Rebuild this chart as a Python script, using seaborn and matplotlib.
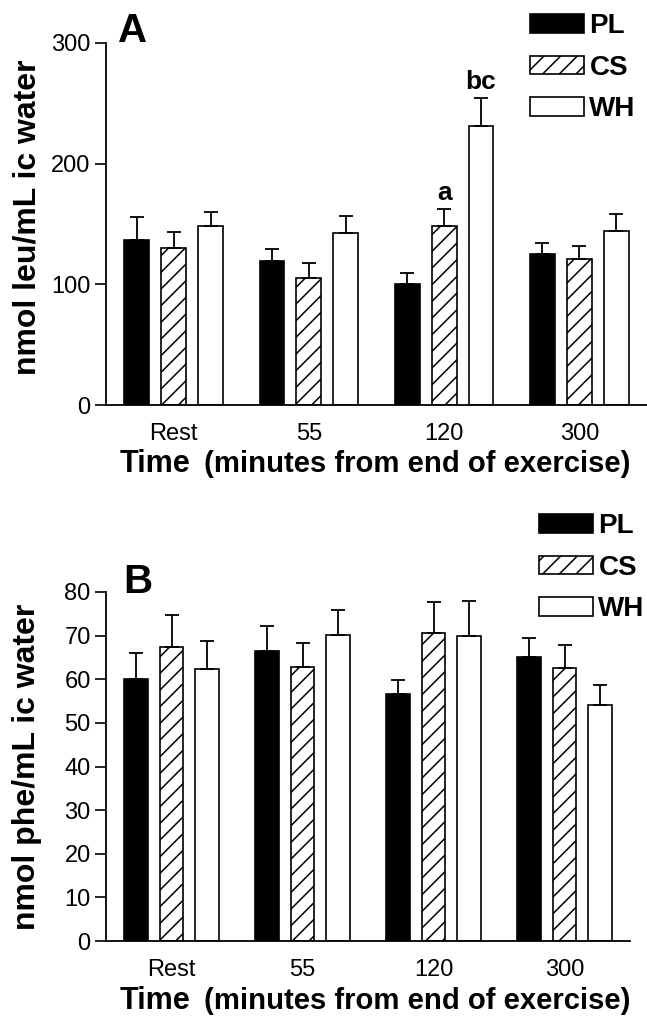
import numpy as np
import pandas as pd
import matplotlib.pyplot as plt
import seaborn as sns

# --------------------------
# Data (mean + SEM, upper error bar only)
# --------------------------
times = ["Rest", "55", "120", "300"]
groups = ["PL", "CS", "WH"]

# A: nmol leu / mL ic water
leu_pl = [137, 119, 100, 125]
leu_cs = [130, 105, 148, 121]
leu_wh = [148, 142.5, 231.5, 144]
leu_pl_err = [19, 10.5, 9, 9]
leu_cs_err = [13, 13, 14.5, 11]
leu_wh_err = [12, 14, 23, 14]

# B: nmol phe / mL ic water
phe_pl = [60.1, 66.4, 56.6, 65.1]
phe_cs = [67.3, 62.8, 70.6, 62.6]
phe_wh = [62.3, 70.2, 70.0, 54.0]
phe_pl_err = [6.0, 5.8, 3.2, 4.4]
phe_cs_err = [7.4, 5.4, 7.2, 5.3]
phe_wh_err = [6.5, 5.7, 8.0, 4.6]

# significance letters (panel A, 120 min)
sig_marks = [("CS", "120", "a"), ("WH", "120", "bc")]


def long_df(pl, cs, wh, pl_e, cs_e, wh_e):
    rows = []
    for g, vals, errs in zip(groups, [pl, cs, wh], [pl_e, cs_e, wh_e]):
        for t, v, e in zip(times, vals, errs):
            rows.append({"time": t, "group": g, "value": v, "err": e})
    return pd.DataFrame(rows)


df_a = long_df(leu_pl, leu_cs, leu_wh, leu_pl_err, leu_cs_err, leu_wh_err)
df_b = long_df(phe_pl, phe_cs, phe_wh, phe_pl_err, phe_cs_err, phe_wh_err)

sns.set_style("ticks")
plt.rcParams["font.family"] = ["Liberation Sans", "DejaVu Sans"]
plt.rcParams["hatch.linewidth"] = 1.1
plt.rcParams["axes.linewidth"] = 1.3
for key in ["text.color", "axes.labelcolor", "axes.edgecolor",
            "xtick.color", "ytick.color"]:
    plt.rcParams[key] = "black"

W, H = 647, 1017
fig = plt.figure(figsize=(W / 100, H / 100), dpi=100)


def px_axes(left, top, right, bottom):
    return fig.add_axes([left / W, 1 - bottom / H, (right - left) / W, (bottom - top) / H])


palette = {"PL": "black", "CS": "white", "WH": "white"}


def draw_panel(ax, df, ymax, yticks, ylabel):
    sns.barplot(data=df, x="time", y="value", hue="group", order=times,
                hue_order=groups, palette=palette, saturation=1, width=0.82,
                gap=0.33, edgecolor="black", linewidth=1.2, errorbar=None,
                legend=False, ax=ax)
    for cont, g in zip(ax.containers, groups):
        sub = df[df.group == g].set_index("time").loc[times]
        xs = [b.get_x() + b.get_width() / 2 for b in cont]
        ax.errorbar(xs, sub["value"], yerr=[np.zeros(len(xs)), sub["err"]],
                    fmt="none", ecolor="black", elinewidth=1.3, capsize=5,
                    capthick=1.3, zorder=3)
        if g == "CS":
            for b in cont:
                b.set_hatch("//")
    ax.set_xlim(-0.5, 3.5)
    ax.set_ylim(0, ymax)
    ax.set_yticks(yticks)
    ax.set_xlabel("")
    ax.set_ylabel(ylabel, fontsize=23, fontweight="bold")
    ax.tick_params(axis="x", length=0, pad=13, labelsize=17)
    ax.tick_params(axis="y", length=8, width=1.2, pad=3, labelsize=17)
    sns.despine(ax=ax)


# --------------------------
# Panel A
# --------------------------
ax_a = px_axes(106, 43, 647, 405)
draw_panel(ax_a, df_a, 300, [0, 100, 200, 300], "nmol leu/mL ic water")
ax_a.yaxis.set_label_coords(-0.118, 0.52)
for g, t, lab in sig_marks:
    cont = ax_a.containers[groups.index(g)]
    b = cont[times.index(t)]
    row = df_a[(df_a.group == g) & (df_a.time == t)].iloc[0]
    ax_a.annotate(lab, xy=(b.get_x() + b.get_width() / 2, row["value"] + row["err"]),
                  xytext=(0, 3), textcoords="offset points", ha="center",
                  va="bottom", fontsize=19, fontweight="bold")

# --------------------------
# Panel B
# --------------------------
ax_b = px_axes(106, 592, 630, 941)
draw_panel(ax_b, df_b, 80, list(range(0, 81, 10)), "nmol phe/mL ic water")
ax_b.yaxis.set_label_coords(-0.122, 0.5)

# --------------------------
# Legends, panel letters, x titles
# --------------------------
for ax, lx, ly in [(ax_a, 530, 13), (ax_b, 539, 513)]:
    ax.legend(handles=list(ax.containers), labels=groups, loc="upper left",
              bbox_to_anchor=(lx / W, 1 - ly / H), bbox_transform=fig.transFigure,
              frameon=False, borderpad=0, borderaxespad=0, handlelength=1.94,
              handleheight=0.65, handletextpad=0.2, labelspacing=0.56,
              prop={"weight": "bold", "size": 20})

fig.text(118 / W, 1 - 42 / H, "A", fontsize=29, fontweight="bold", va="baseline")
fig.text(123 / W, 1 - 593 / H, "B", fontsize=29, fontweight="bold", va="baseline")

for base in [472, 1009]:
    fig.text(120 / W, 1 - base / H, "Time", fontsize=22, fontweight="bold",
             ha="left", va="baseline")
    fig.text(630 / W, 1 - base / H, "(minutes from end of exercise)", fontsize=21.1,
             fontweight="bold", ha="right", va="baseline")

fig.savefig("out.png", dpi=100)
